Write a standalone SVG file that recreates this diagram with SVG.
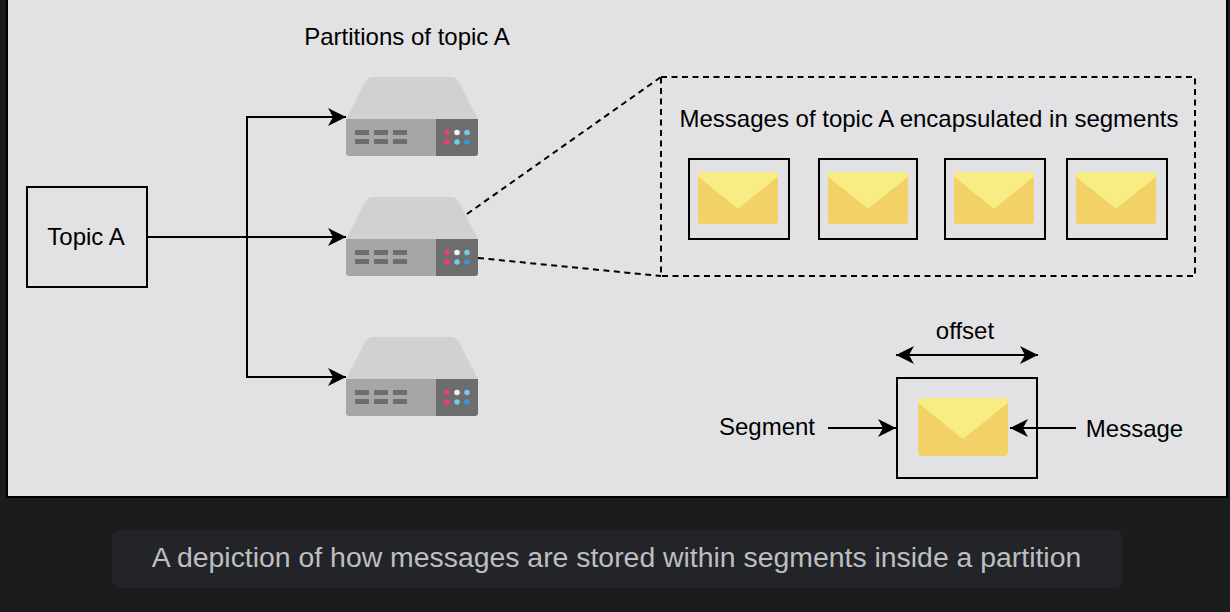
<svg xmlns="http://www.w3.org/2000/svg" xmlns:xlink="http://www.w3.org/1999/xlink" width="1230" height="612" viewBox="0 0 1230 612">
<style>
text{font-family:"Liberation Sans",Arial,sans-serif;font-size:24px;fill:#000;text-anchor:middle}
.box{fill:none;stroke:#000;stroke-width:2}
.c{fill:none;stroke:#000;stroke-width:2}
.d{fill:none;stroke:#000;stroke-width:2;stroke-dasharray:6 4.5}
</style>
<defs>
<marker id="a" markerUnits="userSpaceOnUse" markerWidth="20" markerHeight="20" refX="18" refY="10" orient="auto-start-reverse"><path d="M0 1L18 10L0 19L5 10Z" fill="#000"/></marker>
<g id="server">
<path d="M0 42L19 5Q22 0 28 0H104Q110 0 113 5L132 42Z" fill="#d0d1d2"/>
<path d="M0 42H90V79H3Q0 79 0 76Z" fill="#a6a6a6"/>
<path d="M90 42H132V76Q132 79 129 79H90Z" fill="#6d6d6d"/>
<g fill="#6d6d6d"><rect x="9" y="53" width="14" height="5"/><rect x="28" y="53" width="14" height="5"/><rect x="47" y="53" width="14" height="5"/><rect x="9" y="62" width="14" height="5"/><rect x="28" y="62" width="14" height="5"/><rect x="47" y="62" width="14" height="5"/></g>
<circle cx="101" cy="55.500" r="2.800" fill="#ee3e6d"/><circle cx="111" cy="55.500" r="2.800" fill="#f2f2f2"/><circle cx="121" cy="55.500" r="2.800" fill="#74c8ee"/>
<circle cx="101" cy="65" r="2.800" fill="#ee3e6d"/><circle cx="111" cy="65" r="2.800" fill="#74c8ee"/><circle cx="121" cy="65" r="2.800" fill="#3d94d6"/>
</g>
<g id="mail">
<rect width="90" height="58" rx="4" fill="#f2d166"/>
<path d="M0 5Q0 0 5 0H85Q90 0 90 5L45 41Z" fill="#f8ec84"/>
</g>
</defs>
<rect width="1230" height="612" fill="#1b1c1e"/>
<rect x="7" y="-4" width="1220" height="501" fill="#e2e2e4" stroke="#000" stroke-width="2"/>
<rect x="112" y="530" width="1010" height="58" rx="8" fill="#222428"/>
<text x="616.500" y="567" style="font-size:28.400px;fill:#bdbec2">A depiction of how messages are stored within segments inside a partition</text>

<g id="connectors">
<path class="c" d="M147 237H346" marker-end="url(#a)"/>
<path class="c" d="M247 237V117H346" marker-end="url(#a)"/>
<path class="c" d="M247 237V377H346" marker-end="url(#a)"/>
<path class="d" d="M467 214L661 77"/>
<path class="d" d="M478 258L661 276"/>
<path class="c" d="M896 355H1038" marker-start="url(#a)" marker-end="url(#a)"/>
<path class="c" d="M828 428H896" marker-end="url(#a)"/>
<path class="c" d="M1076 428H1010" marker-end="url(#a)"/>
</g>
<g id="topic-a"><rect class="box" x="27" y="187" width="120" height="100"/><text x="86" y="245">Topic A</text></g>
<g id="partitions-label"><text x="407" y="45">Partitions of topic A</text></g>
<g id="server-1"><use href="#server" x="346" y="77"/></g>
<g id="server-2"><use href="#server" x="346" y="197"/></g>
<g id="server-3"><use href="#server" x="346" y="337"/></g>
<g id="segments-box"><rect class="d" x="661" y="77" width="534" height="199"/><text x="929" y="127">Messages of topic A encapsulated in segments</text></g>
<g id="segment-1"><rect class="box" x="689" y="159" width="100" height="80"/><use href="#mail" transform="translate(698 172) scale(.889 .897)"/></g>
<g id="segment-2"><rect class="box" x="819" y="159" width="98" height="80"/><use href="#mail" transform="translate(828 172) scale(.889 .897)"/></g>
<g id="segment-3"><rect class="box" x="945" y="159" width="100" height="80"/><use href="#mail" transform="translate(954 172) scale(.889 .897)"/></g>
<g id="segment-4"><rect class="box" x="1067" y="159" width="100" height="80"/><use href="#mail" transform="translate(1076 172) scale(.889 .897)"/></g>
<g id="legend"><rect class="box" x="897" y="378" width="140" height="100"/><use href="#mail" x="918" y="398"/>
<text x="965" y="339">offset</text><text x="767" y="435">Segment</text><text x="1134.500" y="437">Message</text></g>
</svg>
